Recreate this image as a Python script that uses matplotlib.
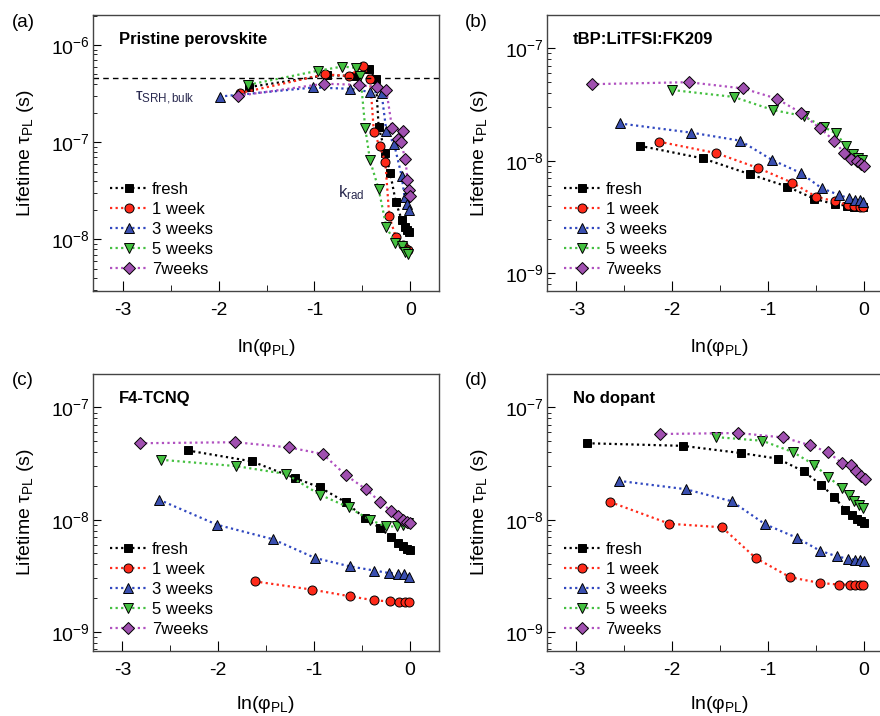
import numpy as np
import matplotlib
matplotlib.use("Agg")
import matplotlib.pyplot as plt
from matplotlib.ticker import MultipleLocator, NullFormatter, FixedLocator

plt.rcParams['font.family'] = ['Liberation Sans', 'DejaVu Sans']
plt.rcParams['mathtext.fontset'] = 'custom'
plt.rcParams['mathtext.rm'] = 'Liberation Sans'
plt.rcParams['mathtext.it'] = 'Liberation Sans:italic'
plt.rcParams['mathtext.bf'] = 'Liberation Sans:bold'
plt.rcParams['mathtext.fallback'] = 'stixsans'
plt.rcParams['axes.unicode_minus'] = False

labels = ["fresh", "1 week", "3 weeks", "5 weeks", "7weeks"]

# (a) pristine perovskite
a_fresh_x = [-1.68, -0.87, -0.57, -0.43, -0.36, -0.33, -0.26, -0.21, -0.15, -0.09, -0.06, -0.03, -0.01]
a_fresh_y = [3.7e-7, 4.9e-7, 4.8e-7, 5.7e-7, 4.5e-7, 1.44e-7, 7.7e-8, 4.85e-8, 2.4e-8, 1.6e-8, 1.35e-8, 1.25e-8, 1.2e-8]
a_w1_x = [-1.78, -0.89, -0.64, -0.49, -0.42, -0.38, -0.32, -0.26, -0.22, -0.15, -0.08, -0.04, -0.02]
a_w1_y = [3.2e-7, 5.0e-7, 4.8e-7, 6.1e-7, 4.5e-7, 1.28e-7, 9.1e-8, 6.3e-8, 1.75e-8, 1.05e-8, 8.7e-9, 8.0e-9, 7.7e-9]
a_w3_x = [-1.99, -1.01, -0.63, -0.42, -0.30, -0.25, -0.17, -0.09, -0.06, -0.03, -0.01]
a_w3_y = [2.95e-7, 3.66e-7, 3.55e-7, 3.3e-7, 3.25e-7, 1.3e-7, 9.7e-8, 4.5e-8, 2.75e-8, 2.3e-8, 2.0e-8]
a_w5_x = [-1.69, -0.96, -0.71, -0.57, -0.52, -0.47, -0.42, -0.33, -0.25, -0.16, -0.09, -0.05, -0.02]
a_w5_y = [3.9e-7, 5.45e-7, 6.0e-7, 5.85e-7, 4.8e-7, 1.4e-7, 6.5e-8, 3.3e-8, 1.35e-8, 9.2e-9, 8.5e-9, 7.5e-9, 7.1e-9]
a_w7_x = [-1.80, -0.90, -0.54, -0.35, -0.25, -0.19, -0.08, -0.13, -0.10, -0.05, -0.03, -0.01, 0.0]
a_w7_y = [3.0e-7, 4.0e-7, 3.9e-7, 3.67e-7, 3.45e-7, 1.4e-7, 1.3e-7, 1.07e-7, 1.0e-7, 6.7e-8, 4.1e-8, 3.2e-8, 2.8e-8]

# (b) tBP:LiTFSI:FK209
b_fresh_x = [-2.34, -1.68, -1.19, -0.80, -0.52, -0.30, -0.18, -0.10, -0.05, -0.01]
b_fresh_y = [1.36e-8, 1.05e-8, 7.6e-9, 5.9e-9, 4.6e-9, 4.1e-9, 4.0e-9, 3.9e-9, 3.85e-9, 3.85e-9]
b_w1_x = [-2.14, -1.54, -1.10, -0.75, -0.50, -0.30, -0.17, -0.10, -0.04, -0.01]
b_w1_y = [1.48e-8, 1.17e-8, 8.6e-9, 6.4e-9, 4.8e-9, 4.35e-9, 4.05e-9, 3.98e-9, 3.92e-9, 3.85e-9]
b_w3_x = [-2.55, -1.80, -1.29, -0.96, -0.66, -0.44, -0.26, -0.16, -0.09, -0.04, -0.01]
b_w3_y = [2.15e-8, 1.78e-8, 1.51e-8, 1.02e-8, 7.8e-9, 5.7e-9, 4.97e-9, 4.65e-9, 4.5e-9, 4.45e-9, 4.3e-9]
b_w5_x = [-2.0, -1.36, -0.95, -0.63, -0.42, -0.29, -0.19, -0.11, -0.06, -0.02]
b_w5_y = [4.26e-8, 3.7e-8, 2.83e-8, 2.5e-8, 2.0e-8, 1.75e-8, 1.36e-8, 1.15e-8, 1.07e-8, 1.02e-8]
b_w7_x = [-2.84, -1.83, -1.26, -0.91, -0.66, -0.46, -0.31, -0.21, -0.13, -0.07, -0.03, 0.0]
b_w7_y = [4.8e-8, 5.0e-8, 4.4e-8, 3.57e-8, 2.68e-8, 1.95e-8, 1.51e-8, 1.18e-8, 1.04e-8, 1.0e-8, 9.3e-9, 8.9e-9]

# (c) F4-TCNQ
c_fresh_x = [-2.32, -1.65, -1.20, -0.94, -0.67, -0.47, -0.31, -0.20, -0.12, -0.07, -0.03, 0.0]
c_fresh_y = [4.14e-8, 3.31e-8, 2.35e-8, 1.94e-8, 1.43e-8, 1.03e-8, 8.4e-9, 7.0e-9, 6.2e-9, 5.8e-9, 5.5e-9, 5.4e-9]
c_w1_x = [-1.62, -1.02, -0.63, -0.37, -0.21, -0.11, -0.05, -0.01]
c_w1_y = [2.82e-9, 2.38e-9, 2.08e-9, 1.91e-9, 1.87e-9, 1.85e-9, 1.84e-9, 1.84e-9]
c_w3_x = [-2.62, -2.01, -1.43, -0.99, -0.63, -0.37, -0.22, -0.12, -0.06, -0.01]
c_w3_y = [1.51e-8, 9.0e-9, 6.7e-9, 4.56e-9, 3.84e-9, 3.52e-9, 3.35e-9, 3.3e-9, 3.25e-9, 3.1e-9]
c_w5_x = [-2.60, -1.81, -1.29, -0.94, -0.64, -0.42, -0.25, -0.14, -0.07, -0.02]
c_w5_y = [3.42e-8, 3.0e-8, 2.55e-8, 1.67e-8, 1.29e-8, 1.0e-8, 8.7e-9, 8.7e-9, 9.0e-9, 9.3e-9]
c_w7_x = [-2.82, -1.82, -1.26, -0.91, -0.67, -0.46, -0.31, -0.20, -0.12, -0.07, -0.03, 0.0]
c_w7_y = [4.8e-8, 4.9e-8, 4.4e-8, 3.85e-8, 2.5e-8, 1.87e-8, 1.44e-8, 1.2e-8, 1.07e-8, 9.9e-9, 9.5e-9, 9.3e-9]

# (d) no dopant
d_fresh_x = [-2.89, -1.89, -1.28, -0.90, -0.63, -0.45, -0.31, -0.20, -0.12, -0.07, -0.03, 0.0]
d_fresh_y = [4.8e-8, 4.55e-8, 3.92e-8, 3.5e-8, 2.7e-8, 2.05e-8, 1.6e-8, 1.23e-8, 1.09e-8, 1.02e-8, 9.7e-9, 9.35e-9]
d_w1_x = [-2.65, -2.03, -1.48, -1.13, -0.77, -0.46, -0.26, -0.15, -0.09, -0.04, -0.01]
d_w1_y = [1.44e-8, 9.2e-9, 8.55e-9, 4.56e-9, 3.07e-9, 2.73e-9, 2.64e-9, 2.64e-9, 2.64e-9, 2.64e-9, 2.6e-9]
d_w3_x = [-2.56, -1.86, -1.38, -1.03, -0.70, -0.46, -0.28, -0.17, -0.09, -0.04, 0.0]
d_w3_y = [2.22e-8, 1.87e-8, 1.46e-8, 9.1e-9, 6.9e-9, 5.3e-9, 4.7e-9, 4.5e-9, 4.4e-9, 4.35e-9, 4.3e-9]
d_w5_x = [-1.54, -1.06, -0.74, -0.52, -0.37, -0.23, -0.16, -0.10, -0.05, -0.01]
d_w5_y = [5.44e-8, 5.05e-8, 4.0e-8, 3.09e-8, 2.4e-8, 1.91e-8, 1.65e-8, 1.48e-8, 1.36e-8, 1.27e-8]
d_w7_x = [-2.13, -1.31, -0.84, -0.56, -0.37, -0.23, -0.13, -0.08, -0.03, 0.01]
d_w7_y = [5.8e-8, 5.92e-8, 5.4e-8, 4.6e-8, 3.98e-8, 3.19e-8, 3.09e-8, 2.73e-8, 2.45e-8, 2.32e-8]

tau_srh_bulk = 4.6e-7

line_colors = ['#000000', '#ff2a1a', '#3048c0', '#44c040', '#b050c0']
face_colors = ['#000000', '#ff2a1a', '#3a4fb0', '#44c040', '#a050b0']
markers = ['s', 'o', '^', 'v', 'D']
msizes = [6, 6.5, 7, 7, 6]


def log_ticks(lo, hi):
    # only ticks inside the visible range, so no stray labels exist
    decades = np.arange(np.floor(np.log10(lo)), np.ceil(np.log10(hi)) + 1)
    major = [10.0 ** d for d in decades if lo <= 10.0 ** d <= hi]
    minor = [m * 10.0 ** d for d in decades for m in range(2, 10) if lo <= m * 10.0 ** d <= hi]
    return major, minor


def draw_panel(ax, xs, ys, title, ylim, xpad):
    for i in range(5):
        ax.plot(xs[i], ys[i], linestyle=(0, (1, 1.5)), lw=1.6, color=line_colors[i],
                marker=markers[i], ms=msizes[i], mfc=face_colors[i], mec='black',
                mew=0.7, label=labels[i])
    ax.set_yscale('log')
    ax.set_xlim(-3.31, 0.30)
    ax.set_ylim(*ylim)
    ax.set_xticks([-3, -2, -1, 0])
    ax.xaxis.set_minor_locator(FixedLocator([-2.5, -1.5, -0.5]))
    major, minor = log_ticks(*ylim)
    ax.yaxis.set_major_locator(FixedLocator(major))
    ax.yaxis.set_minor_locator(FixedLocator(minor))
    ax.yaxis.set_minor_formatter(NullFormatter())
    ax.xaxis.set_minor_formatter(NullFormatter())
    ax.tick_params(axis='both', which='major', direction='in', top=False, right=False,
                   labelsize=14)
    ax.tick_params(axis='both', which='minor', direction='in', top=False, right=False,
                   labelleft=False, labelbottom=False)
    ax.tick_params(axis='y', which='major', length=6, pad=2)
    ax.tick_params(axis='y', which='minor', length=3)
    ax.tick_params(axis='x', which='major', length=7, pad=8)
    ax.tick_params(axis='x', which='minor', length=4)
    for s in ax.spines.values():
        s.set_color('#444444')
        s.set_linewidth(1.0)
    ax.set_xlabel('ln(φ$_{\\rm PL}$)', fontsize=14, labelpad=xpad)
    ax.set_ylabel('Lifetime τ$_{\\rm PL}$ (s)', fontsize=14, labelpad=11)
    ax.text(0.075, 0.91, title, transform=ax.transAxes, fontsize=12,
            fontweight='bold', va='center', ha='left')
    ax.legend(loc='lower left', bbox_to_anchor=(0.05, 0.05), frameon=False,
              borderpad=0, borderaxespad=0, handlelength=2.2, handletextpad=0.3,
              labelspacing=0.30, fontsize=12, numpoints=1)


fig = plt.figure(figsize=(8.8, 7.16), dpi=100)

ax_a = fig.add_axes([0.1057, 0.5936, 0.3932, 0.3855])
ax_b = fig.add_axes([0.6212, 0.5936, 0.3932, 0.3855])
ax_c = fig.add_axes([0.1053, 0.0912, 0.3932, 0.3869])
ax_d = fig.add_axes([0.6212, 0.0912, 0.3932, 0.3869])

draw_panel(ax_a, [a_fresh_x, a_w1_x, a_w3_x, a_w5_x, a_w7_x],
           [a_fresh_y, a_w1_y, a_w3_y, a_w5_y, a_w7_y],
           'Pristine perovskite', (2.95e-9, 2.04e-6), 13)
draw_panel(ax_b, [b_fresh_x, b_w1_x, b_w3_x, b_w5_x, b_w7_x],
           [b_fresh_y, b_w1_y, b_w3_y, b_w5_y, b_w7_y],
           'tBP:LiTFSI:FK209', (6.96e-10, 1.98e-7), 13)
draw_panel(ax_c, [c_fresh_x, c_w1_x, c_w3_x, c_w5_x, c_w7_x],
           [c_fresh_y, c_w1_y, c_w3_y, c_w5_y, c_w7_y],
           'F4-TCNQ', (6.8e-10, 2.0e-7), 11)
draw_panel(ax_d, [d_fresh_x, d_w1_x, d_w3_x, d_w5_x, d_w7_x],
           [d_fresh_y, d_w1_y, d_w3_y, d_w5_y, d_w7_y],
           'No dopant', (6.8e-10, 2.0e-7), 11)

ax_a.axhline(tau_srh_bulk, color='black', ls=(0, (4, 3)), lw=1.0)
ax_a.text(-2.87, 2.85e-7, 'τ$_{\\rm SRH,bulk}$', fontsize=12, color='#2a2a50',
          va='center', ha='left')
ax_a.text(-0.75, 3.0e-8, 'k$_{\\rm rad}$', fontsize=12, color='#2a2a50',
          va='center', ha='left')

for lbl, x, y in [('(a)', 0.013, 0.969), ('(b)', 0.528, 0.969),
                  ('(c)', 0.013, 0.469), ('(d)', 0.528, 0.469)]:
    fig.text(x, y, lbl, fontsize=13.5, va='center', ha='left')

fig.savefig('out.png', dpi=100)
